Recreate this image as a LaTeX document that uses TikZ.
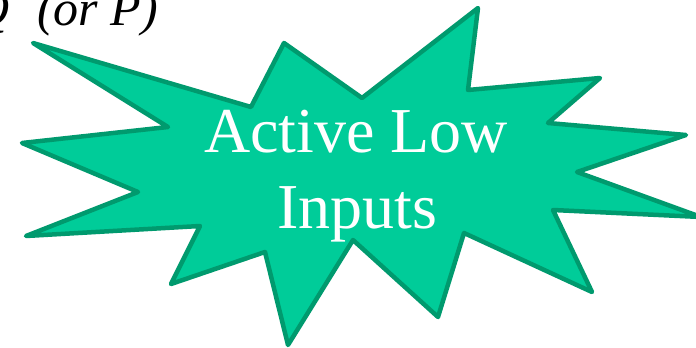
\documentclass[tikz,border=0pt]{standalone}
\usepackage{fontspec}
\setmainfont{Liberation Serif}
\usepackage{tikz}
\usetikzlibrary{positioning}
\definecolor{burstgreen}{HTML}{00CC99}
\definecolor{burstedge}{HTML}{009A6E}

\begin{document}
\begin{tikzpicture}[
    x=1pt, y=-1pt,
    burst/.style={draw=burstedge, fill=burstgreen, line width=4.5pt, line join=round},
    big/.style={text=white, inner sep=0pt, font=\fontsize{64}{76}\selectfont},
    note/.style={inner sep=0pt, font=\fontsize{50}{60}\selectfont\itshape}
]
\useasboundingbox (0,0) rectangle (696,348);
\clip (0,0) rectangle (696,348);
\draw[burst] (33,43) -- (251,107) -- (284,43) -- (362,98) -- (478,8) -- (468,90)
    -- (600,78) -- (548,123) -- (686,135) -- (577,172) -- (701,217) -- (553,210)
    -- (592,292) -- (464,233) -- (438,317) -- (353,240) -- (288,345) -- (265,252)
    -- (171,284) -- (200,226) -- (26,236) -- (138,192) -- (22,143) -- (168,127) -- cycle;
\node[big, anchor=base] (act) at (356,152) {Active Low};
\node[big, anchor=base] (inp) at (357,228) {Inputs};
\node[note, anchor=base west] (qbar) at (-27,25) {Q\hspace{28pt}(or P)};
\end{tikzpicture}
\end{document}
